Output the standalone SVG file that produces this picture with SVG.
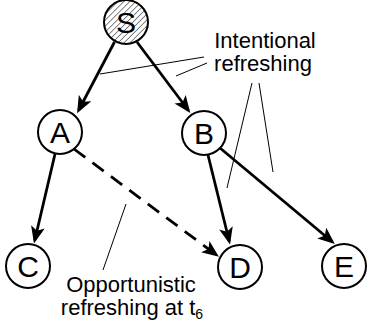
<svg xmlns="http://www.w3.org/2000/svg" width="369" height="328" viewBox="0 0 369 328">
<style>
.node{fill:#fff;stroke:#000;stroke-width:2}
.lbl{font-family:"Liberation Sans",Arial,sans-serif;font-size:30px;text-anchor:middle;fill:#000}
.txt{font-family:"Liberation Sans",Arial,sans-serif;font-size:22px;text-anchor:middle;fill:#000}
.edge{stroke:#000;stroke-width:2.8;fill:none;marker-end:url(#arr)}
.dash{stroke-dasharray:14 9}
.ptr{stroke:#000;stroke-width:1;fill:none}
</style>
<defs>
<pattern id="hatch" width="4.2" height="4.2" patternUnits="userSpaceOnUse" patternTransform="rotate(45)">
<line x1="0" y1="0" x2="0" y2="4.2" stroke="#444" stroke-width="1.3"/>
</pattern>
<marker id="arr" markerUnits="userSpaceOnUse" markerWidth="18" markerHeight="14" refX="14" refY="7" orient="auto">
<path d="M0,0 L17,7 L0,14 L4,7 z" fill="#000"/>
</marker>
</defs>
<g id="connectors">
<line class="edge" x1="114.5" y1="42" x2="78.5" y2="110.5"/>
<line class="edge" x1="137" y1="42" x2="188.5" y2="110.5"/>
<line class="edge" x1="55" y1="154" x2="34.7" y2="240.5"/>
<line class="edge" x1="208" y1="155" x2="229.3" y2="241.5"/>
<line class="edge" x1="220" y1="148" x2="332.5" y2="242"/>
<line class="edge dash" x1="74" y1="149" x2="216.5" y2="255"/>
<line class="ptr" x1="100" y1="74" x2="204" y2="57"/>
<line class="ptr" x1="176" y1="76" x2="207" y2="63"/>
<line class="ptr" x1="252" y1="83" x2="227" y2="188"/>
<line class="ptr" x1="259" y1="83" x2="273" y2="172"/>
<line class="ptr" x1="126" y1="204" x2="103" y2="270"/>
</g>
<g id="S">
<circle cx="126" cy="22" r="22" fill="#fff"/>
<circle cx="126" cy="22" r="22" fill="url(#hatch)" stroke="#000" stroke-width="2"/>
<text class="lbl" x="126" y="32.7">S</text>
</g>
<g id="A">
<circle class="node" cx="60" cy="132" r="22"/>
<text class="lbl" x="60" y="142.7">A</text>
</g>
<g id="B">
<circle class="node" cx="204" cy="133" r="22"/>
<text class="lbl" x="204" y="143.7">B</text>
</g>
<g id="C">
<circle class="node" cx="28" cy="266" r="22"/>
<text class="lbl" x="28" y="276.7">C</text>
</g>
<g id="D">
<circle class="node" cx="240" cy="267" r="22"/>
<text class="lbl" x="240" y="277.7">D</text>
</g>
<g id="E">
<circle class="node" cx="344" cy="266" r="22"/>
<text class="lbl" x="344" y="276.7">E</text>
</g>
<g id="labels">
<text class="txt" x="265" y="48">Intentional</text>
<text class="txt" x="263" y="71">refreshing</text>
<text class="txt" x="131" y="292">Opportunistic</text>
<text class="txt" x="132" y="315">refreshing at t<tspan font-size="14" dy="4">6</tspan></text>
</g>
</svg>
